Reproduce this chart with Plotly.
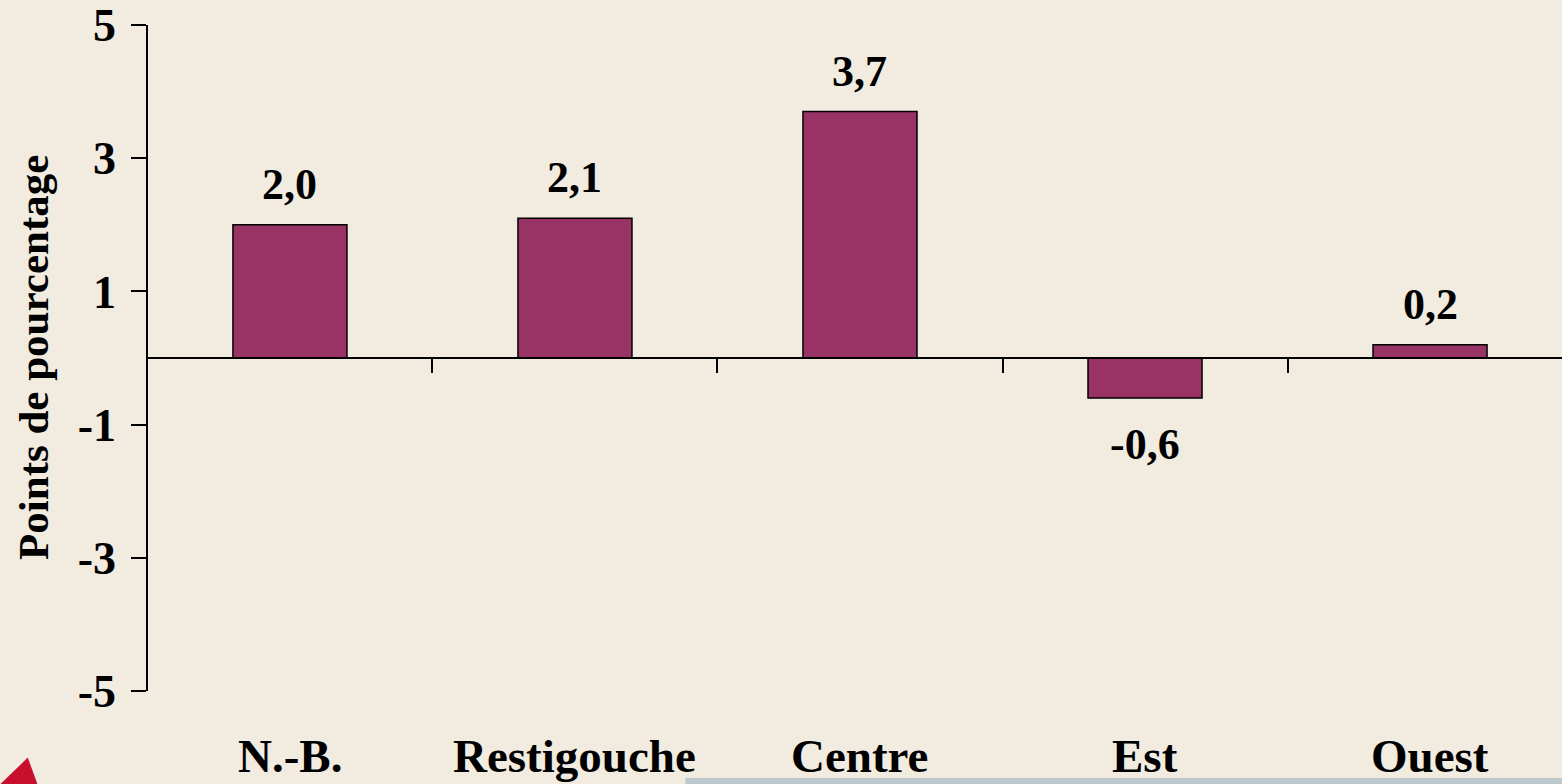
import plotly.graph_objects as go

categories = ["N.-B.", "Restigouche", "Centre", "Est", "Ouest"]
values = [2.0, 2.1, 3.7, -0.6, 0.2]
value_labels = ["2,0", "2,1", "3,7", "-0,6", "0,2"]
y_ticks = [5, 3, 1, -1, -3, -5]
y_ticktext = ["5", "3", "1", "-1", "-3", "-5"]
sep_ticks = [0.5, 1.5, 2.5, 3.5]

FONT = "Liberation Serif"
BG = "#F1EBE0"
XR = [-0.498, 4.463]

fig = go.Figure()
fig.add_trace(go.Bar(
    x=categories, y=values, width=0.4,
    marker=dict(color="#993366", line=dict(color="black", width=1.5)),
    hoverinfo="skip", showlegend=False,
))
# invisible trace on numeric axis to enable the zero-line axis
fig.add_trace(go.Scatter(x=[0], y=[0], xaxis="x2", mode="markers",
                         marker=dict(opacity=0), hoverinfo="skip", showlegend=False))

for c, v, t in zip(categories, values, value_labels):
    fig.add_annotation(x=c, xref="x", y=v, yref="y",
                       yanchor="bottom" if v >= 0 else "top",
                       yshift=14 if v >= 0 else -20,
                       text=t, showarrow=False,
                       font=dict(family=FONT, size=44, color="black", weight="bold"))

for c in categories:
    fig.add_annotation(x=c, xref="x", y=0, yref="paper", yanchor="middle",
                       yshift=-65, text=c, showarrow=False,
                       font=dict(family=FONT, size=47, color="black", weight="bold"))

fig.add_annotation(x=0, xref="paper", y=0.5, yref="paper", xshift=-115,
                   xanchor="center", yanchor="middle", textangle=-90,
                   text="Points de pourcentage", showarrow=False,
                   font=dict(family=FONT, size=43, color="black", weight="bold"))

fig.update_layout(
    width=1562, height=784,
    margin=dict(l=148, r=0, t=25, b=93),
    paper_bgcolor=BG, plot_bgcolor="rgba(0,0,0,0)",
    font=dict(family=FONT, color="black"),
    bargap=0.6,
    xaxis=dict(type="category", range=XR, showticklabels=False, showline=False,
               showgrid=False, zeroline=False, ticks=""),
    xaxis2=dict(overlaying="x", anchor="free", position=0.5, range=XR,
                showline=True, linecolor="black", linewidth=1.5,
                ticks="outside", tickvals=sep_ticks, ticklen=14, tickwidth=1.5,
                tickcolor="black", showticklabels=False, showgrid=False, zeroline=False),
    yaxis=dict(range=[-5, 5], domain=[0, 1], tickvals=y_ticks, ticktext=y_ticktext,
               showline=True, linecolor="black", linewidth=1.5, ticks="outside",
               ticklen=15, tickwidth=1.5, tickcolor="black", showgrid=False, zeroline=False,
               tickfont=dict(family=FONT, size=46, color="black", weight="bold"),
               ticklabelstandoff=6),
    shapes=[
        dict(type="rect", xref="paper", yref="paper", x0=0.38, x1=1.0,
             y0=-0.141, y1=-0.1306, fillcolor="#BCCACE", line=dict(width=0), layer="below"),
        dict(type="path", xref="paper", yref="paper",
             path="M -0.105,-0.141 L -0.085,-0.10 L -0.078,-0.141 Z",
             fillcolor="#C8102E", line=dict(width=0), layer="below"),
    ],
)

fig.write_html("out.html", config={"displayModeBar": False},
               post_script="document.body.style.margin='0';document.body.style.overflow='hidden';")
